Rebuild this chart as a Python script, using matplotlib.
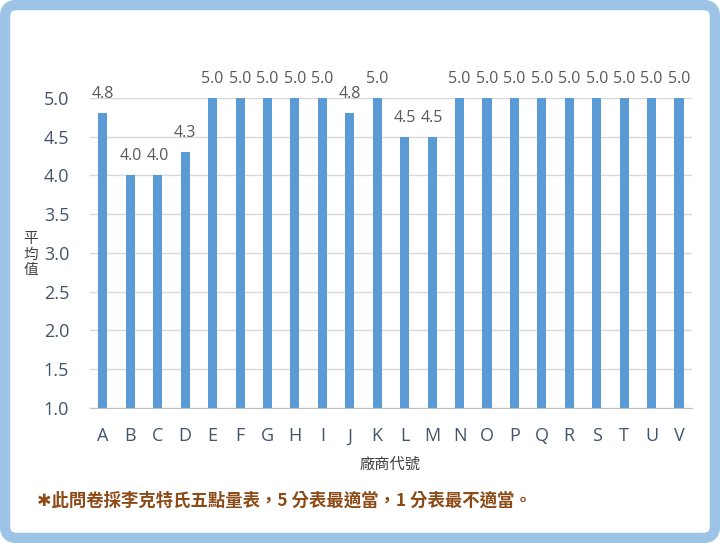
import matplotlib
matplotlib.use('Agg')
import matplotlib.pyplot as plt
from matplotlib.patches import FancyBboxPatch

plt.rcParams['font.family'] = ['Open Sans', 'Noto Sans CJK TC', 'DejaVu Sans']

codes = list('ABCDEFGHIJKLMNOPQRSTUV')
means = [4.8, 4.0, 4.0, 4.3, 5.0, 5.0, 5.0, 5.0, 5.0, 4.8, 5.0,
         4.5, 4.5, 5.0, 5.0, 5.0, 5.0, 5.0, 5.0, 5.0, 5.0, 5.0]
yticks = [1.0, 1.5, 2.0, 2.5, 3.0, 3.5, 4.0, 4.5, 5.0]

fig = plt.figure(figsize=(7.2, 5.43), dpi=100)

# rounded light blue frame
frame = FancyBboxPatch((0.05, 0.05), 7.1, 5.33,
                       boxstyle='round,pad=0,rounding_size=0.12',
                       transform=fig.dpi_scale_trans,
                       facecolor='white', edgecolor='#9DC3E6', linewidth=7.5,
                       zorder=-5)
fig.patches.append(frame)

ax = fig.add_axes([0.125, 0.2486, 0.836, 0.571])
ax.set_facecolor('none')
x = range(len(codes))
bars = ax.bar(x, means, width=0.33, color='#5B9BD5', zorder=3)
for xi, v in zip(x, means):
    ax.annotate(f'{v:.1f}', (xi, v), xytext=(0, 8), textcoords='offset points',
                ha='center', va='bottom', fontsize=11.5, color='#595959',
                annotation_clip=False)

ax.set_xlim(-0.47, len(codes) - 0.53)
ax.set_ylim(1.0, 5.0)
ax.set_yticks(yticks)
ax.set_yticklabels([f'{t:.1f}' for t in yticks])
ax.set_xticks(list(x))
ax.set_xticklabels(codes)
ax.grid(axis='y', color='#D9D9D9', linewidth=1, zorder=0)
ax.tick_params(axis='both', length=0, colors='#44546A', labelsize=13)
ax.tick_params(axis='y', pad=15)
ax.tick_params(axis='x', pad=14)
for s in ['top', 'right', 'left']:
    ax.spines[s].set_visible(False)
ax.spines['bottom'].set_color('#BFBFBF')
ax.spines['bottom'].set_zorder(4)

fig.text(0.542, 0.143, '廠商代號', ha='center', va='center', fontsize=11, color='#404040')
fig.text(0.043, 0.53, '平\n均\n值', ha='center', va='center', fontsize=10.5,
         color='#404040', linespacing=1.05)
fig.text(0.052, 0.078, '✱此問卷採李克特氏五點量表，5 分表最適當，1 分表最不適當。',
         ha='left', va='center', fontsize=12.5, fontweight='bold', color='#8C4A17',
         family=['Noto Sans CJK TC', 'DejaVu Sans'])

fig.savefig('out.png', dpi=100)
